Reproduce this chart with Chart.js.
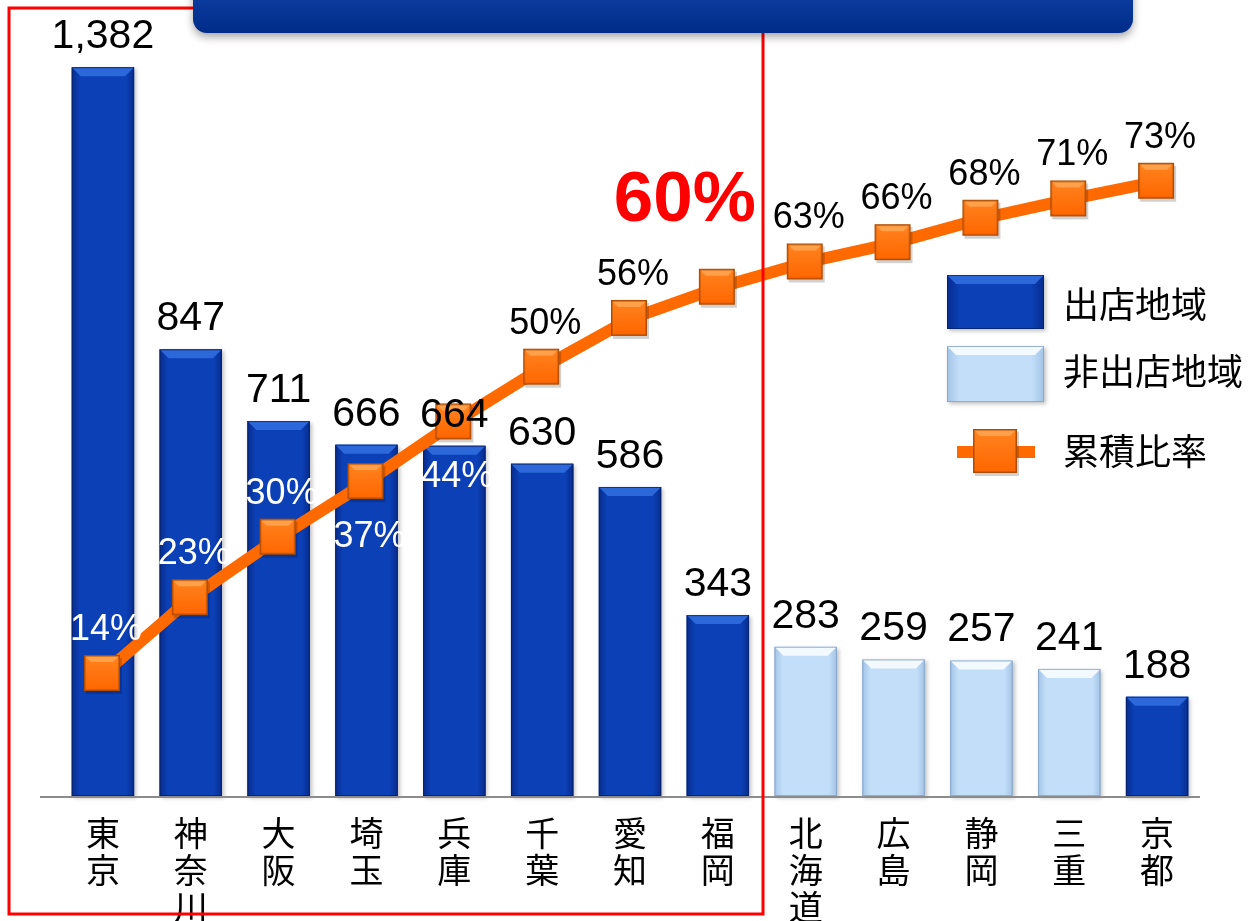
<!DOCTYPE html>
<html>
<head>
<meta charset="utf-8">
<script src="https://cdn.jsdelivr.net/npm/chart.js@4.4.1/dist/chart.umd.min.js"></script>
<style>
  html, body { margin: 0; padding: 0; background: #fff; }
  #wrap { width: 1253px; height: 921px; }
</style>
</head>
<body>
<div id="wrap"><canvas id="grafico" width="1253" height="921"></canvas></div>
<script>
// ===== データ =====
const todofuken = [
  ['東','京'], ['神','奈','川'], ['大','阪'], ['埼','玉'], ['兵','庫'], ['千','葉'], ['愛','知'],
  ['福','岡'], ['北','海','道'], ['広','島'], ['静','岡'], ['三','重'], ['京','都']
];
const tenpoSu = [1382, 847, 711, 666, 664, 630, 586, 343, 283, 259, 257, 241, 188];
const shutten = [true, true, true, true, true, true, true, true, false, false, false, false, true];
const ruisekiHiritsu = [14.5, 23.5, 30.7, 37.3, 44.4, 50.9, 56.7, 60.4, 63.4, 65.7, 68.6, 70.9, 73.0];
const hiritsuLabel = ['14%', '23%', '30%', '37%', '44%', '50%', '56%', '60%', '63%', '66%', '68%', '71%', '73%'];
const hanreiLabel = ['出店地域', '非出店地域', '累積比率'];

const FONT_NUM = '"Liberation Sans", Arial, sans-serif';
const FONT_JP = '"Noto Sans CJK JP", sans-serif';

// マーカー画像（オレンジの四角）
function criaMarcador(tam) {
  const c = document.createElement('canvas');
  c.width = tam + 6; c.height = tam + 6;
  const g = c.getContext('2d');
  const o = 2;
  g.fillStyle = 'rgba(0,0,0,0.18)';
  g.fillRect(o + 2, o + 3, tam, tam);
  const grad = g.createLinearGradient(0, o, 0, o + tam);
  grad.addColorStop(0, '#ff8420');
  grad.addColorStop(1, '#ff6600');
  g.fillStyle = grad;
  g.fillRect(o, o, tam, tam);
  g.fillStyle = '#ffa04a';
  g.beginPath();
  g.moveTo(o, o); g.lineTo(o + tam, o); g.lineTo(o + tam - 7, o + 7); g.lineTo(o + 7, o + 7); g.closePath();
  g.fill();
  g.strokeStyle = '#b04c00';
  g.lineWidth = 1.5;
  g.strokeRect(o + 0.75, o + 0.75, tam - 1.5, tam - 1.5);
  return c;
}
const marcador = criaMarcador(36);
const marcadorHanrei = criaMarcador(44);

function desenhaBarra(ctx, x0, y0, w, h, escuro) {
  if (!(h > 0) || !isFinite(x0) || !isFinite(w)) return;
  const borda = escuro ? '#082c8c' : '#a4c4e6';
  const meio = escuro ? '#0b40b6' : '#c2def9';
  const topo = escuro ? '#2d68da' : '#f2f9ff';
  ctx.save();
  ctx.shadowColor = 'rgba(0,0,0,0.25)';
  ctx.shadowBlur = 4;
  ctx.shadowOffsetX = 2;
  ctx.shadowOffsetY = 2;
  const g = ctx.createLinearGradient(x0, 0, x0 + w, 0);
  g.addColorStop(0, borda);
  g.addColorStop(0.13, meio);
  g.addColorStop(0.87, meio);
  g.addColorStop(1, borda);
  ctx.fillStyle = g;
  ctx.fillRect(x0, y0, w, h);
  ctx.restore();
  const b = Math.min(9, h / 2);
  ctx.fillStyle = topo;
  ctx.beginPath();
  ctx.moveTo(x0, y0); ctx.lineTo(x0 + w, y0); ctx.lineTo(x0 + w - b, y0 + b); ctx.lineTo(x0 + b, y0 + b); ctx.closePath();
  ctx.fill();
  ctx.strokeStyle = escuro ? 'rgba(4,30,100,0.7)' : 'rgba(130,160,195,0.8)';
  ctx.lineWidth = 1;
  ctx.strokeRect(x0 + 0.5, y0 + 0.5, w - 1, h - 1);
}

// バーの立体表現（データセット1＝棒）
const pluginBarras = {
  id: 'barras',
  afterDatasetDraw(chart, args) {
    if (args.index !== 1) return;
    const ctx = chart.ctx;
    args.meta.data.forEach((el, i) => {
      desenhaBarra(ctx, el.x - el.width / 2, el.y, el.width, el.base - el.y, shutten[i]);
    });
  }
};

// ラベル・凡例・枠
const pluginRotulos = {
  id: 'rotulos',
  afterDatasetsDraw(chart) {
    const ctx = chart.ctx;
    const area = chart.chartArea;
    ctx.save();
    // 軸線
    ctx.strokeStyle = '#8c8c8c';
    ctx.lineWidth = 2;
    ctx.beginPath();
    ctx.moveTo(40, area.bottom + 1);
    ctx.lineTo(area.right - 1, area.bottom + 1);
    ctx.stroke();

    // 店舗数
    ctx.textAlign = 'center';
    ctx.textBaseline = 'alphabetic';
    ctx.fillStyle = '#000';
    ctx.font = '41px ' + FONT_NUM;
    chart.getDatasetMeta(1).data.forEach((el, i) => {
      ctx.fillText(tenpoSu[i].toLocaleString('en-US'), el.x, el.y - 19);
    });

    // 累積比率
    chart.getDatasetMeta(0).data.forEach((el, i) => {
      ctx.textBaseline = 'middle';
      if (i === 7) {
        ctx.fillStyle = '#ff0000';
        ctx.font = 'bold 71px ' + FONT_NUM;
        ctx.fillText(hiritsuLabel[i], el.x - 33, el.y - 86);
        return;
      }
      ctx.font = '36px ' + FONT_NUM;
      ctx.fillStyle = i < 5 ? '#ffffff' : '#000000';
      const abaixo = (i === 3 || i === 4);
      ctx.fillText(hiritsuLabel[i], el.x + 3, abaixo ? el.y + 55 : el.y - 44);
    });

    // 凡例
    desenhaBarra(ctx, 947, 275, 97, 54, true);
    desenhaBarra(ctx, 947, 346, 97, 56, false);
    ctx.fillStyle = '#ff6a00';
    ctx.fillRect(957, 446, 78, 12);
    ctx.drawImage(marcadorHanrei, 996 - marcadorHanrei.width / 2, 452 - marcadorHanrei.height / 2);
    ctx.fillStyle = '#000';
    ctx.textAlign = 'left';
    ctx.textBaseline = 'middle';
    ctx.font = '36px ' + FONT_JP;
    ctx.fillText(hanreiLabel[0], 1063, 304);
    ctx.fillText(hanreiLabel[1], 1063, 371);
    ctx.fillText(hanreiLabel[2], 1063, 451);
    ctx.restore();
  },
  afterDraw(chart) {
    const ctx = chart.ctx;
    ctx.save();
    // 赤枠
    ctx.strokeStyle = '#ff0000';
    ctx.lineWidth = 3;
    ctx.strokeRect(9, 8, 754, 906);
    // タイトル箱（上が切れている）
    ctx.shadowColor = 'rgba(0,0,0,0.35)';
    ctx.shadowBlur = 8;
    ctx.shadowOffsetY = 4;
    const g = ctx.createLinearGradient(0, 0, 0, 33);
    g.addColorStop(0, '#0a3a9c');
    g.addColorStop(1, '#002c88');
    ctx.fillStyle = g;
    ctx.beginPath();
    ctx.roundRect(193, -30, 940, 63, 14);
    ctx.fill();
    ctx.restore();
  }
};

const ctx = document.getElementById('grafico').getContext('2d');
new Chart(ctx, {
  data: {
    labels: todofuken,
    datasets: [
      {
        type: 'line',
        label: hanreiLabel[2],
        data: ruisekiHiritsu,
        yAxisID: 'y2',
        borderColor: '#ff6a00',
        borderWidth: 12,
        tension: 0,
        pointStyle: marcador,
        pointRadius: 18,
        order: 0
      },
      {
        type: 'bar',
        label: hanreiLabel[0],
        data: tenpoSu,
        yAxisID: 'y',
        backgroundColor: shutten.map(s => s ? '#0b40b6' : '#c2def9'),
        barPercentage: 0.71,
        categoryPercentage: 1,
        order: 1
      }
    ]
  },
  options: {
    responsive: false,
    animation: false,
    devicePixelRatio: 1,
    layout: { autoPadding: false, padding: { left: 59, right: 52, top: 5, bottom: 0 } },
    plugins: { legend: { display: false }, tooltip: { enabled: false } },
    scales: {
      x: {
        grid: { display: false },
        border: { display: false },
        ticks: {
          color: '#000',
          font: { family: FONT_JP, size: 34, lineHeight: 1.08 },
          padding: 11,
          maxRotation: 0,
          autoSkip: false
        },
        afterFit(s) { s.height = 125; }
      },
      y: { display: false, min: 0, max: 1500 },
      y2: { display: false, min: 0, max: 94 }
    }
  },
  plugins: [pluginBarras, pluginRotulos]
});
</script>
</body>
</html>
